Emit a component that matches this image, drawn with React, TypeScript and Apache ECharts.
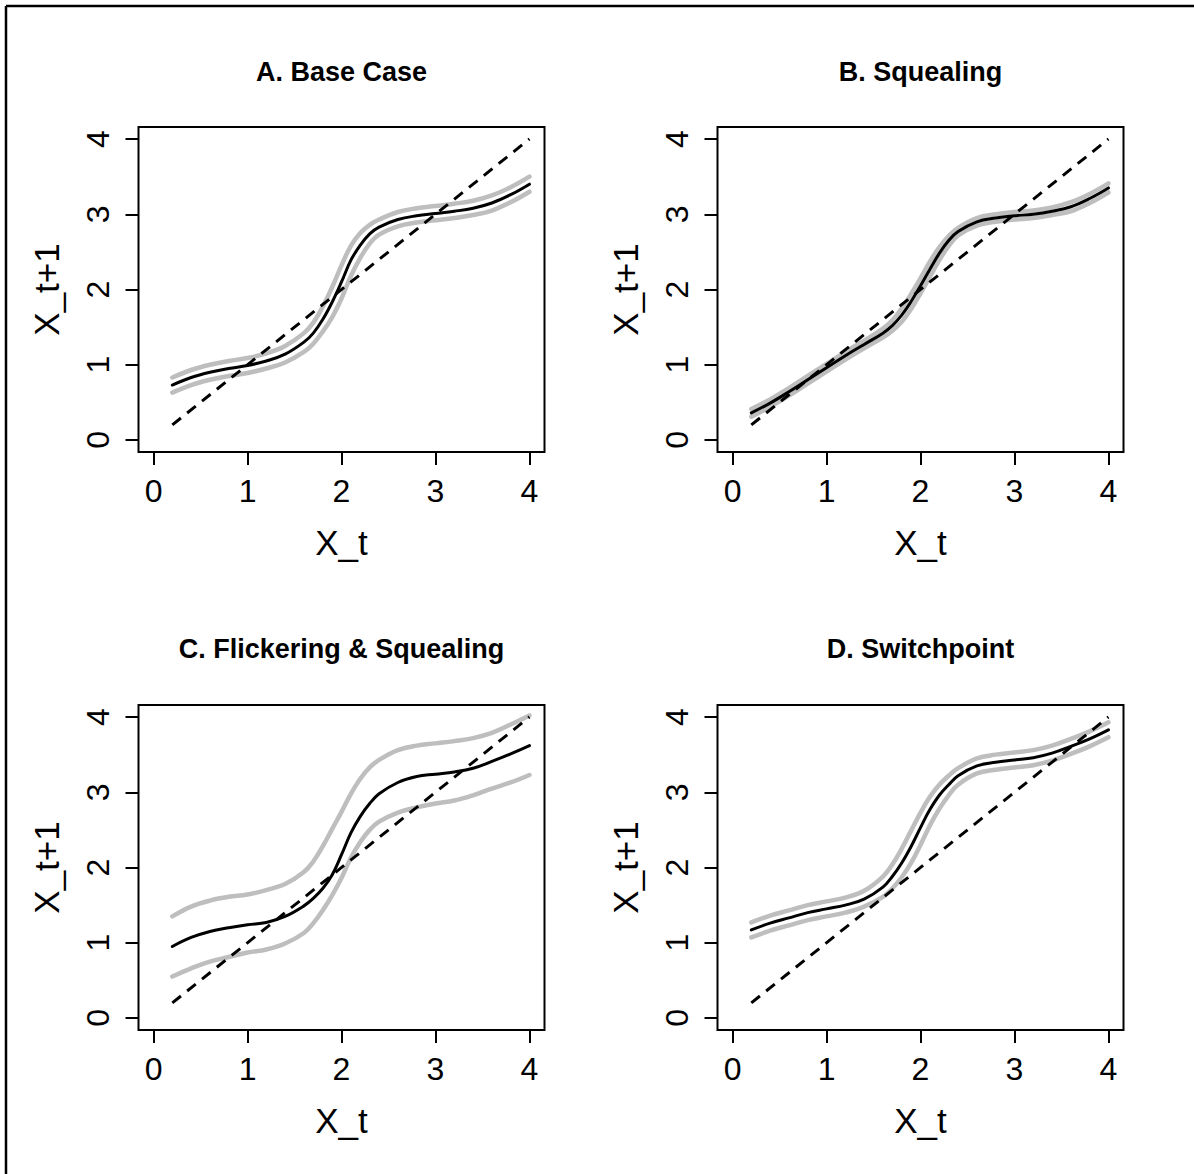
import React, { useEffect, useRef } from "react";
import * as echarts from "echarts";

// ---- data ----
const xs = [0.2, 0.4, 0.6, 0.8, 1.0, 1.2, 1.4, 1.6, 1.7, 1.8, 1.9, 2.0, 2.1, 2.2, 2.3, 2.4, 2.6, 2.8, 3.0, 3.2, 3.4, 3.6, 3.8, 4.0];

const aMid = [0.73, 0.83, 0.90, 0.95, 0.99, 1.05, 1.14, 1.30, 1.42, 1.60, 1.83, 2.10, 2.39, 2.59, 2.74, 2.83, 2.93, 2.98, 3.01, 3.04, 3.08, 3.15, 3.26, 3.40];
const aUpper = [0.83, 0.93, 1.00, 1.05, 1.09, 1.15, 1.25, 1.42, 1.56, 1.77, 2.03, 2.32, 2.58, 2.75, 2.86, 2.93, 3.03, 3.08, 3.11, 3.14, 3.18, 3.25, 3.36, 3.50];
const aLower = [0.63, 0.73, 0.80, 0.85, 0.89, 0.95, 1.03, 1.17, 1.28, 1.44, 1.63, 1.88, 2.18, 2.42, 2.61, 2.73, 2.84, 2.89, 2.92, 2.95, 2.99, 3.05, 3.16, 3.30];

const bMid = [0.36, 0.49, 0.64, 0.80, 0.96, 1.12, 1.27, 1.42, 1.52, 1.66, 1.84, 2.05, 2.27, 2.48, 2.65, 2.77, 2.90, 2.95, 2.98, 3.00, 3.04, 3.10, 3.21, 3.35];
const bUpper = [0.41, 0.54, 0.69, 0.85, 1.01, 1.17, 1.32, 1.48, 1.59, 1.75, 1.94, 2.15, 2.37, 2.56, 2.71, 2.82, 2.95, 3.00, 3.03, 3.05, 3.09, 3.16, 3.27, 3.41];
const bLower = [0.31, 0.44, 0.59, 0.75, 0.91, 1.07, 1.22, 1.36, 1.45, 1.57, 1.74, 1.95, 2.17, 2.39, 2.58, 2.72, 2.85, 2.90, 2.93, 2.95, 2.99, 3.04, 3.15, 3.29];

const cMid = [0.95, 1.07, 1.15, 1.20, 1.24, 1.27, 1.35, 1.49, 1.59, 1.72, 1.90, 2.17, 2.46, 2.68, 2.85, 2.98, 3.13, 3.21, 3.24, 3.27, 3.32, 3.41, 3.51, 3.62];
const cUpper = [1.35, 1.48, 1.56, 1.61, 1.64, 1.70, 1.78, 1.94, 2.08, 2.28, 2.51, 2.74, 2.98, 3.18, 3.33, 3.43, 3.56, 3.62, 3.65, 3.68, 3.72, 3.79, 3.90, 4.02];
const cLower = [0.55, 0.66, 0.75, 0.81, 0.87, 0.91, 0.99, 1.13, 1.26, 1.43, 1.63, 1.86, 2.13, 2.34, 2.50, 2.61, 2.73, 2.80, 2.85, 2.89, 2.96, 3.05, 3.13, 3.23];

const dMid = [1.17, 1.26, 1.33, 1.40, 1.45, 1.50, 1.58, 1.74, 1.88, 2.06, 2.28, 2.53, 2.77, 2.96, 3.10, 3.22, 3.35, 3.40, 3.43, 3.46, 3.52, 3.61, 3.71, 3.83];
const dUpper = [1.27, 1.36, 1.43, 1.50, 1.55, 1.60, 1.69, 1.88, 2.04, 2.25, 2.49, 2.73, 2.94, 3.10, 3.22, 3.32, 3.45, 3.50, 3.53, 3.56, 3.62, 3.71, 3.81, 3.93];
const dLower = [1.07, 1.16, 1.23, 1.30, 1.35, 1.40, 1.48, 1.61, 1.72, 1.87, 2.06, 2.30, 2.56, 2.78, 2.96, 3.10, 3.25, 3.30, 3.33, 3.36, 3.42, 3.51, 3.61, 3.73];

const diagX = [0.2, 4.0];
const diagY = [0.2, 4.0];

const tickValues = [0, 1, 2, 3, 4];
const panelTitles = ["A. Base Case", "B. Squealing", "C. Flickering & Squealing", "D. Switchpoint"];
const xName = "X_t";
const yName = "X_t+1";

const panelData = [
  { mid: aMid, up: aUpper, lo: aLower },
  { mid: bMid, up: bUpper, lo: bLower },
  { mid: cMid, up: cUpper, lo: cLower },
  { mid: dMid, up: dUpper, lo: dLower },
];

// ---- layout ----
const W = 1194;
const H = 1174;
const gridPos = [
  { left: 138.5, top: 127, width: 406, height: 325 },
  { left: 717.5, top: 127, width: 406, height: 325 },
  { left: 138.5, top: 705, width: 406, height: 325 },
  { left: 717.5, top: 705, width: 406, height: 325 },
];
const FONT = "'Liberation Sans', Arial, Helvetica, sans-serif";

export default function App() {
  const ref = useRef<HTMLDivElement | null>(null);

  useEffect(() => {
    if (!ref.current) return;
    const chart = echarts.init(ref.current, undefined, { renderer: "svg", width: W, height: H });

    const grids = gridPos.map((g) => ({
      left: g.left,
      top: g.top,
      width: g.width,
      height: g.height,
      show: true,
      borderColor: "#000",
      borderWidth: 2,
      backgroundColor: "transparent",
      containLabel: false,
    }));

    const xAxes = gridPos.map((_, i) => ({
      type: "value",
      gridIndex: i,
      position: "bottom",
      min: -0.16,
      max: 4.16,
      axisLine: { show: false, onZero: false },
      splitLine: { show: false },
      axisTick: {
        show: true,
        inside: false,
        length: 13,
        customValues: tickValues,
        lineStyle: { color: "#000", width: 2 },
      },
      axisLabel: {
        show: true,
        customValues: tickValues,
        margin: 23,
        fontSize: 32,
        color: "#000",
        fontFamily: FONT,
      },
      name: xName,
      nameLocation: "middle",
      nameGap: 73,
      nameTextStyle: { fontSize: 35, color: "#000", fontFamily: FONT },
    }));

    const yAxes = gridPos.map((_, i) => ({
      type: "value",
      gridIndex: i,
      position: "left",
      min: -0.16,
      max: 4.16,
      axisLine: { show: false, onZero: false },
      splitLine: { show: false },
      axisTick: {
        show: true,
        inside: false,
        length: 13,
        customValues: tickValues,
        lineStyle: { color: "#000", width: 2 },
      },
      axisLabel: {
        show: true,
        customValues: tickValues,
        rotate: 90,
        margin: 25,
        fontSize: 32,
        color: "#000",
        fontFamily: FONT,
      },
      name: yName,
      nameLocation: "middle",
      nameGap: 75,
      nameTextStyle: { fontSize: 35, color: "#000", fontFamily: FONT },
    }));

    const series: any[] = [];
    panelData.forEach((p, i) => {
      const common = {
        type: "line",
        xAxisIndex: i,
        yAxisIndex: i,
        symbol: "none",
        showSymbol: false,
        silent: true,
        smooth: 0.4,
        animation: false,
      };
      series.push({
        ...common,
        data: xs.map((x, k) => [x, p.lo[k]]),
        lineStyle: { color: "#bebebe", width: 4.5, cap: "round" },
        z: 2,
      });
      series.push({
        ...common,
        data: xs.map((x, k) => [x, p.up[k]]),
        lineStyle: { color: "#bebebe", width: 4.5, cap: "round" },
        z: 2,
      });
      series.push({
        ...common,
        smooth: false,
        data: diagX.map((x, k) => [x, diagY[k]]),
        lineStyle: { color: "#000", width: 3, type: [11, 8] },
        z: 3,
      });
      series.push({
        ...common,
        data: xs.map((x, k) => [x, p.mid[k]]),
        lineStyle: { color: "#000", width: 3, cap: "round" },
        z: 4,
      });
    });

    const titleGraphics = panelTitles.map((t, i) => {
      const g = gridPos[i];
      return {
        type: "text",
        x: g.left + g.width / 2,
        y: i < 2 ? 72 : 649,
        style: {
          text: t,
          fill: "#000",
          font: `bold 27px ${FONT}`,
          textAlign: "center",
          textVerticalAlign: "middle",
        },
        silent: true,
      };
    });

    chart.setOption({
      animation: false,
      backgroundColor: "#fff",
      grid: grids,
      xAxis: xAxes,
      yAxis: yAxes,
      series,
      graphic: [
        {
          type: "line",
          shape: { x1: 6, y1: 6, x2: W, y2: 6 },
          style: { stroke: "#000", lineWidth: 2.5 },
          silent: true,
        },
        {
          type: "line",
          shape: { x1: 6, y1: 6, x2: 6, y2: H },
          style: { stroke: "#000", lineWidth: 2.5 },
          silent: true,
        },
        ...titleGraphics,
      ],
    });

    return () => {
      chart.dispose();
    };
  }, []);

  return (
    <div
      ref={ref}
      style={{ position: "absolute", left: 0, top: 0, width: W, height: H, background: "#fff" }}
    />
  );
}
